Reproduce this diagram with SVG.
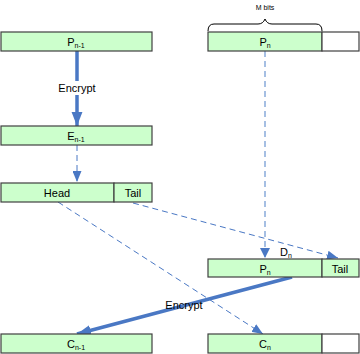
<svg xmlns="http://www.w3.org/2000/svg" width="360" height="354" viewBox="0 0 360 354">
<style>
.box{fill:#ccffcc;stroke:#404040;stroke-width:1.2}
.wbox{fill:#ffffff;stroke:#404040;stroke-width:1.2}
.t{font-family:"Liberation Sans",Arial,sans-serif;font-size:11px;fill:#000;text-anchor:middle}
.s{font-size:7px}
.thick{stroke:#4a78c4;stroke-width:3.5;fill:none}
.dash{stroke:#4a78c4;stroke-width:1;stroke-dasharray:6,4;fill:none}
.pale{stroke:#a6bfe3;stroke-width:2;stroke-dasharray:6,4;fill:none}
</style>
<defs>
<marker id="big" markerUnits="userSpaceOnUse" markerWidth="14" markerHeight="18" refX="18" refY="7" viewBox="0 0 18 14" orient="auto"><path d="M0,0 L18,7 L0,14 Z" fill="#4a78c4"/></marker>
<marker id="sm" markerUnits="userSpaceOnUse" markerWidth="11" markerHeight="9" refX="11" refY="4.5" viewBox="0 0 11 9" orient="auto"><path d="M0,0 L11,4.5 L0,9 Z" fill="#4a78c4"/></marker>
</defs>
<g id="connectors">
<line class="thick" x1="77" y1="51" x2="77" y2="126" marker-end="url(#big)"/>
<rect x="54" y="81" width="46" height="14" fill="#fff"/>
<text class="t" x="77" y="92">Encrypt</text>
<line class="dash" x1="77" y1="145" x2="77" y2="182" marker-end="url(#sm)"/>
<line class="pale" x1="265" y1="51" x2="265" y2="258"/>
<path d="M260,248 L270,248 L265,258 Z" fill="#4a78c4"/>
<line class="dash" x1="133" y1="203" x2="338" y2="258" marker-end="url(#sm)"/>
<line class="dash" x1="58" y1="202" x2="263" y2="334" marker-end="url(#sm)"/>
<line class="thick" x1="292" y1="277" x2="77" y2="334" marker-end="url(#big)"/>
<rect x="164" y="297" width="40" height="14" fill="#fff" opacity="0"/>
<text class="t" x="184" y="309">Encrypt</text>
<text class="t" x="286" y="256">D<tspan class="s" dy="2">n</tspan></text>
</g>
<g id="brace">
<path d="M208,31 Q208,24 214,24 L258,24 Q263,24 265,19 Q267,24 272,24 L316,24 Q322,24 322,31" fill="none" stroke="#000" stroke-width="1"/>
<text class="t" x="265" y="10" style="font-size:7px">M bits</text>
</g>
<g id="pn1"><rect class="box" x="1" y="32" width="151" height="19"/><text class="t" x="76" y="46">P<tspan class="s" dy="2">n-1</tspan></text></g>
<g id="pn"><rect class="box" x="208" y="32" width="114" height="19"/><rect class="wbox" x="322" y="32" width="37" height="19"/><text class="t" x="265" y="46">P<tspan class="s" dy="2">n</tspan></text></g>
<g id="en1"><rect class="box" x="1" y="126" width="151" height="19"/><text class="t" x="76" y="140">E<tspan class="s" dy="2">n-1</tspan></text></g>
<g id="headtail"><rect class="box" x="1" y="183" width="113" height="19"/><rect class="box" x="114" y="183" width="38" height="19"/><text class="t" x="57" y="197">Head</text><text class="t" x="133" y="197">Tail</text></g>
<g id="pntail"><rect class="box" x="208" y="259" width="114" height="18"/><rect class="box" x="322" y="259" width="37" height="18"/><text class="t" x="265" y="273">P<tspan class="s" dy="2">n</tspan></text><text class="t" x="340" y="273">Tail</text></g>
<g id="cn1"><rect class="box" x="1" y="334" width="151" height="19"/><text class="t" x="76" y="348">C<tspan class="s" dy="2">n-1</tspan></text></g>
<g id="cn"><rect class="box" x="208" y="334" width="114" height="19"/><rect class="wbox" x="322" y="334" width="37" height="19"/><text class="t" x="265" y="348">C<tspan class="s" dy="2">n</tspan></text></g>
</svg>
